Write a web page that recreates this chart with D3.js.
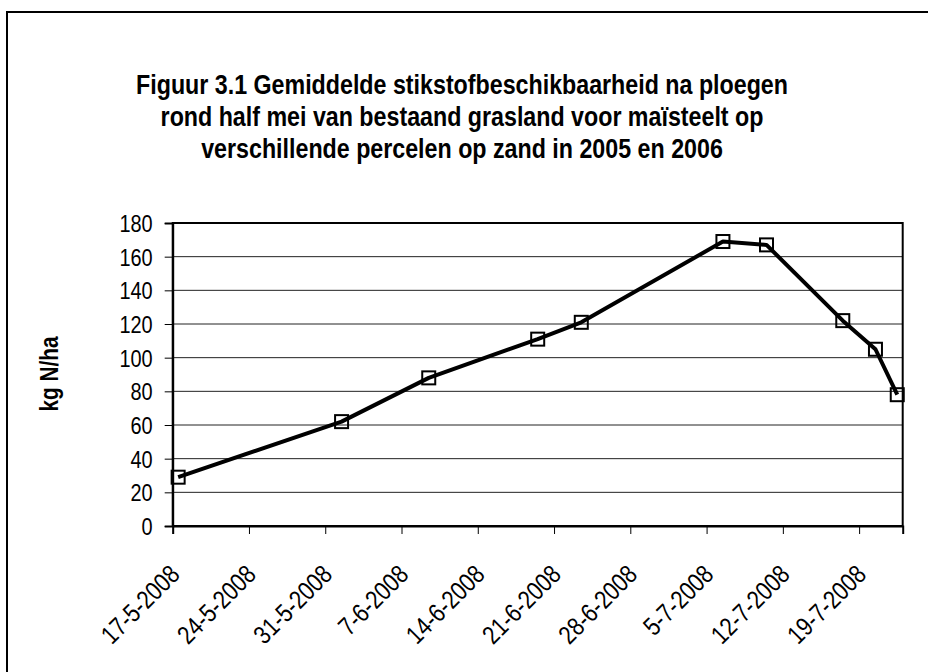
<!DOCTYPE html>
<html>
<head>
<meta charset="utf-8">
<script src="https://cdn.jsdelivr.net/npm/d3@7"></script>
<style>
  body { margin: 0; background: #fff; }
  svg text { font-family: "Liberation Sans", Arial, sans-serif; fill: #000; }
</style>
</head>
<body>
<svg id="chart" width="928" height="672"></svg>
<script>
// measurement dates and nitrogen availability (kg N/ha)
const dates = ["2008-05-17", "2008-06-01", "2008-06-09", "2008-06-19", "2008-06-23",
               "2008-07-06", "2008-07-10", "2008-07-17", "2008-07-20", "2008-07-22"];
const values = [29, 62, 88, 111, 121, 169, 167, 122, 105, 78];
const yTicks = [0, 20, 40, 60, 80, 100, 120, 140, 160, 180];
const xTickDates = ["2008-05-17", "2008-05-24", "2008-05-31", "2008-06-07", "2008-06-14",
                    "2008-06-21", "2008-06-28", "2008-07-05", "2008-07-12", "2008-07-19"];
const titleLines = [
  "Figuur 3.1 Gemiddelde stikstofbeschikbaarheid na ploegen",
  "rond half mei van bestaand grasland voor maïsteelt op",
  "verschillende percelen op zand in 2005 en 2006"
];

const svg = d3.select("#chart");
const plot = {left: 172.7, right: 902.7, top: 223, bottom: 526};
const parse = d3.utcParse("%Y-%m-%d");
const fmt = d3.utcFormat("%-d-%-m-%Y");
const narrow = 0.83; // no Arial Narrow here, so squeeze Liberation Sans

// outer frame (runs off the right and bottom edge like the original)
svg.append("rect")
    .attr("x", 7).attr("y", 12)
    .attr("width", 940).attr("height", 700)
    .attr("fill", "none").attr("stroke", "#000").attr("stroke-width", 2);

svg.selectAll(".title")
    .data(titleLines)
    .enter()
    .append("text")
    .attr("class", "title")
    .attr("transform", (d, i) => "translate(462," + (94 + i * 32) + ") scale(" + narrow + ",1)")
    .attr("text-anchor", "middle")
    .style("font-size", "28px")
    .style("font-weight", "bold")
    .text(d => d);

// Excel date axis: one bucket per day, points in the middle of the day
const x = d3.scaleUtc()
    .domain([parse("2008-05-17"), parse("2008-07-23")])
    .range([plot.left, plot.right]);
const y = d3.scaleLinear().domain([0, 180]).range([plot.bottom, plot.top]);

const g = svg.append("g");

// gridlines
g.selectAll(".grid")
    .data(yTicks.slice(1))
    .enter()
    .append("line")
    .attr("class", "grid")
    .attr("x1", plot.left).attr("x2", plot.right)
    .attr("y1", d => y(d)).attr("y2", d => y(d))
    .attr("stroke", "#222").attr("stroke-width", 1);

// plot area border
g.append("rect")
    .attr("x", plot.left).attr("y", plot.top)
    .attr("width", plot.right - plot.left).attr("height", plot.bottom - plot.top)
    .attr("fill", "none").attr("stroke", "#000").attr("stroke-width", 2);

const yAxis = g.append("g")
    .attr("transform", "translate(" + plot.left + ",0)")
    .call(d3.axisLeft(y).tickValues(yTicks).tickSize(8));
yAxis.select(".domain").attr("stroke-width", 2);
yAxis.selectAll("text")
    .style("font-size", "24px")
    .attr("x", 0)
    .attr("dy", "0.36em")
    .attr("transform", "translate(-20,0) scale(" + narrow + ",1)");

const xAxis = g.append("g")
    .attr("transform", "translate(0," + plot.bottom + ")")
    .call(d3.axisBottom(x).tickValues(xTickDates.map(parse)).tickFormat(fmt).tickSize(8));
xAxis.select(".domain").attr("stroke-width", 2);
xAxis.selectAll("text")
    .style("font-size", "26px")
    .attr("text-anchor", "end")
    .attr("dy", null)
    .attr("transform", "translate(8,50) rotate(-45) scale(" + narrow + ",1)")
    .attr("y", 0).attr("x", 0);

svg.append("text")
    .attr("transform", "translate(58,374) rotate(-90) scale(" + narrow + ",1)")
    .attr("text-anchor", "middle")
    .style("font-size", "25px")
    .style("font-weight", "bold")
    .text("kg N/ha");

const pts = dates.map((d, i) => ({t: d3.utcHour.offset(parse(d), 12), v: values[i]}));

const line = d3.line()
    .x(d => x(d.t))
    .y(d => y(d.v));

g.append("path")
    .datum(pts)
    .attr("d", line)
    .attr("fill", "none")
    .attr("stroke", "#000")
    .attr("stroke-width", 4)
    .attr("stroke-linejoin", "round");

g.selectAll(".marker")
    .data(pts)
    .enter()
    .append("rect")
    .attr("class", "marker")
    .attr("x", d => x(d.t) - 6.5)
    .attr("y", d => y(d.v) - 6.5)
    .attr("width", 13).attr("height", 13)
    .attr("fill", "none")
    .attr("stroke", "#000")
    .attr("stroke-width", 2);
</script>
</body>
</html>
